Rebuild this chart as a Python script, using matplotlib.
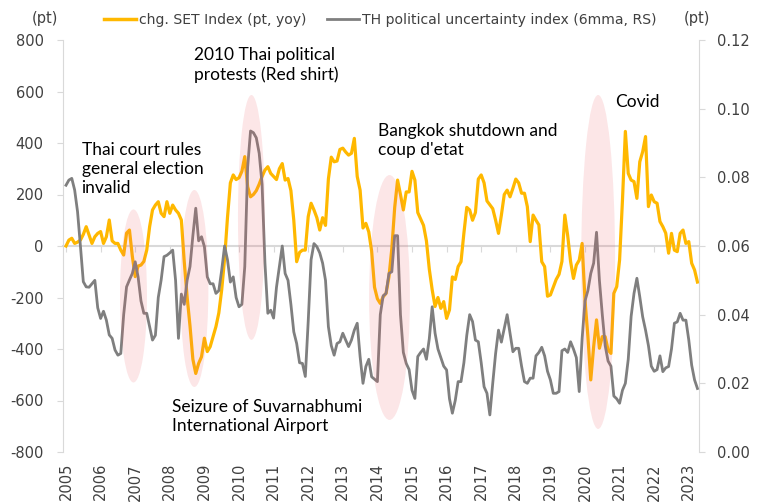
import numpy as np
import matplotlib
matplotlib.use("Agg")
import matplotlib.pyplot as plt
from matplotlib.patches import Ellipse

plt.rcParams["axes.unicode_minus"] = False

# monthly data, Jan 2005 - Apr 2023
set_chg = [
    0, 23, 30, 10, 15, 23, 45, 75, 43, 10, 36, 49,                      # 2005
    56, 10, 36, 101, 20, 10, 10, -16, -35, 50, 62, -40,                 # 2006
    -119, -78, -74, -60, -16, 75, 140, 159, 172, 127, 114, 172,         # 2007
    127, 159, 140, 127, 101, -60, -197, -310, -440, -495, -456, -430,   # 2008
    -358, -410, -391, -352, -313, -260, -170, -50, 110, 245, 276, 258,  # 2009
    265, 290, 347, 230, 191, 200, 215, 240, 270, 295, 308, 282,         # 2010
    270, 258, 300, 320, 256, 262, 215, 100, -61, -25, -16, -16,         # 2011
    114, 166, 140, 110, 62, 110, 80, 260, 345, 327, 330, 375,           # 2012
    380, 365, 353, 360, 418, 270, 217, 70, 88, 55, -20, -160,           # 2013
    -205, -223, -197, -184, -120, -10, 150, 256, 200, 140, 210, 210,    # 2014
    290, 256, 130, 105, 80, 20, -90, -170, -235, -200, -242, -216,      # 2015
    -281, -248, -120, -130, -80, -61, 50, 150, 140, 100, 130, 260,      # 2016
    276, 245, 175, 160, 145, 100, 49, 120, 200, 217, 191, 224,          # 2017
    260, 245, 205, 205, 153, 17, 120, 100, 82, -61, -80, -195,          # 2018
    -190, -160, -130, -110, -60, 120, 40, -60, -126, -74, -55, 10,      # 2019
    -210, -350, -520, -391, -287, -397, -352, -352, -404, -417, -184, -158,  # 2020
    -54, 179, 445, 282, 256, 250, 185, 327, 366, 425, 153, 198,         # 2021
    172, 166, 95, 75, 50, -28, 49, -16, -22, 49, 62, 10,                # 2022
    17, -67, -93, -140,                                                 # 2023
]

pol_unc = [
    0.0777, 0.0792, 0.0797, 0.0763, 0.0700, 0.0600, 0.0496, 0.0481, 0.0480, 0.0490, 0.0500, 0.0420,
    0.0389, 0.0410, 0.0384, 0.0341, 0.0331, 0.0297, 0.0282, 0.0287, 0.0400, 0.0481, 0.0501, 0.0520,
    0.0554, 0.0510, 0.0440, 0.0404, 0.0404, 0.0365, 0.0326, 0.0340, 0.0450, 0.0501, 0.0569, 0.0573,
    0.0580, 0.0588, 0.0500, 0.0331, 0.0460, 0.0430, 0.0500, 0.0540, 0.0630, 0.0710, 0.0615, 0.0627,
    0.0598, 0.0510, 0.0490, 0.0490, 0.0462, 0.0470, 0.0530, 0.0600, 0.0560, 0.0495, 0.0510, 0.0450,
    0.0423, 0.0430, 0.0540, 0.0830, 0.0935, 0.0930, 0.0915, 0.0870, 0.0780, 0.0550, 0.0404, 0.0413,
    0.0390, 0.0480, 0.0540, 0.0600, 0.0520, 0.0500, 0.0430, 0.0350, 0.0316, 0.0260, 0.0258, 0.0220,
    0.0380, 0.0560, 0.0607, 0.0598, 0.0580, 0.0550, 0.0500, 0.0365, 0.0310, 0.0282, 0.0316, 0.0321,
    0.0346, 0.0326, 0.0307, 0.0326, 0.0355, 0.0375, 0.0278, 0.0200, 0.0249, 0.0270, 0.0219, 0.0212,
    0.0205, 0.0400, 0.0455, 0.0462, 0.0520, 0.0525, 0.0630, 0.0630, 0.0400, 0.0290, 0.0258, 0.0240,
    0.0180, 0.0156, 0.0278, 0.0290, 0.0300, 0.0270, 0.0330, 0.0423, 0.0346, 0.0300, 0.0275, 0.0250,
    0.0239, 0.0155, 0.0113, 0.0150, 0.0205, 0.0205, 0.0260, 0.0340, 0.0400, 0.0380, 0.0326, 0.0321,
    0.0260, 0.0190, 0.0171, 0.0108, 0.0200, 0.0287, 0.0355, 0.0320, 0.0360, 0.0400, 0.0346, 0.0292,
    0.0302, 0.0302, 0.0250, 0.0205, 0.0200, 0.0215, 0.0215, 0.0280, 0.0290, 0.0305, 0.0280, 0.0235,
    0.0210, 0.0171, 0.0171, 0.0176, 0.0295, 0.0300, 0.0290, 0.0321, 0.0300, 0.0275, 0.0176, 0.0330,
    0.0440, 0.0470, 0.0520, 0.0550, 0.0640, 0.0500, 0.0400, 0.0310, 0.0265, 0.0250, 0.0163, 0.0155,
    0.0142, 0.0180, 0.0200, 0.0270, 0.0395, 0.0462, 0.0506, 0.0452, 0.0394, 0.0355, 0.0310, 0.0250,
    0.0235, 0.0240, 0.0280, 0.0234, 0.0245, 0.0249, 0.0300, 0.0375, 0.0379, 0.0404, 0.0384, 0.0384,
    0.0326, 0.0253, 0.0210, 0.0185,
]

years = list(range(2005, 2024))

# highlighted episodes: (centre year, centre pt, width yrs, height pt)
events = [
    (2006.95, -194, 0.78, 672),
    (2008.71, -165, 0.81, 765),
    (2010.36, 111, 0.78, 951),
    (2014.35, -200, 1.18, 951),
    (2020.38, -62, 0.98, 1297),
]
event_labels = [
    (2005.45, 405, "Thai court rules\ngeneral election\ninvalid"),
    (2008.06, -595, "Seizure of Suvarnabhumi\nInternational Airport"),
    (2008.70, 772, "2010 Thai political\nprotests (Red shirt)"),
    (2014.02, 478, "Bangkok shutdown and\ncoup d'etat"),
    (2020.88, 592, "Covid"),
]

orange = "#FFB800"
grey_line = "#7F7F7F"
axis_col = "#D9D9D9"
text_col = "#404040"

x = 2005 + np.arange(len(set_chg)) / 12

fig = plt.figure(figsize=(7.65, 5.04), dpi=100)
ax = fig.add_axes([63 / 765, 52 / 504, 636 / 765, 412 / 504])
ax2 = ax.twinx()

ax.plot(x, set_chg, color=orange, lw=2.3, zorder=3)
ax2.plot(x, pol_unc, color=grey_line, lw=2.0, zorder=3)

for cx, cy, w, h in events:
    ax2.add_patch(Ellipse((cx, cy), w, h, transform=ax.transData,
                          facecolor=(0.93, 0.35, 0.38), alpha=0.15,
                          edgecolor="none", zorder=4))

for lx, ly, txt in event_labels:
    ax2.text(lx, ly, txt, transform=ax.transData, fontsize=12.5,
             family="Lato", color="black", va="top", ha="left",
             linespacing=1.25, zorder=5)

ax.set_xlim(2004.913, 2023.295)
ax.set_ylim(-800, 800)
ax2.set_ylim(0, 0.12)
ax.set_yticks(np.arange(-800, 801, 200))
ax2.set_yticks(np.arange(0, 0.121, 0.02))
ax2.set_yticklabels([f"{v:.2f}" for v in np.arange(0, 0.121, 0.02)])

for a in (ax, ax2):
    a.spines["top"].set_visible(False)
    for s in a.spines.values():
        s.set_color(axis_col)
ax.spines["right"].set_visible(False)
ax2.spines["left"].set_visible(False)
ax2.spines["bottom"].set_visible(False)
ax.spines["bottom"].set_position(("data", 0))
ax.spines["bottom"].set_linewidth(1.5)

ax.set_xticks(years)
ax.tick_params(axis="x", direction="out", length=4, color=axis_col,
               labelbottom=False)
ax.tick_params(axis="y", length=4, color=axis_col, labelcolor=text_col,
               labelsize=10.5, pad=10)
ax2.tick_params(axis="y", length=4, color=axis_col, labelcolor=text_col,
                labelsize=10.5, pad=9)

sec = ax.secondary_xaxis(0)
sec.set_xticks(years)
sec.set_xticklabels([str(y) for y in years], rotation=90)
sec.tick_params(length=0, labelsize=10.5, labelcolor=text_col, pad=8)
sec.spines["bottom"].set_visible(False)

fig.text(45 / 765, 1 - 18 / 504, "(pt)", ha="center", va="center",
         fontsize=10.5, color=text_col)
fig.text(697 / 765, 1 - 18 / 504, "(pt)", ha="center", va="center",
         fontsize=10.5, color=text_col)

handles = [plt.Line2D([], [], color=orange, lw=2.5),
           plt.Line2D([], [], color=grey_line, lw=2.0)]
fig.legend(handles, ["chg. SET Index (pt, yoy)",
                     "TH political uncertainty index (6mma, RS)"],
           loc="center", bbox_to_anchor=(0.497, 1 - 20 / 504), ncol=2,
           frameon=False, fontsize=10.1, labelcolor=text_col,
           handlelength=2.3, handletextpad=0.2, columnspacing=1.5)

fig.savefig("out.png", dpi=100)
